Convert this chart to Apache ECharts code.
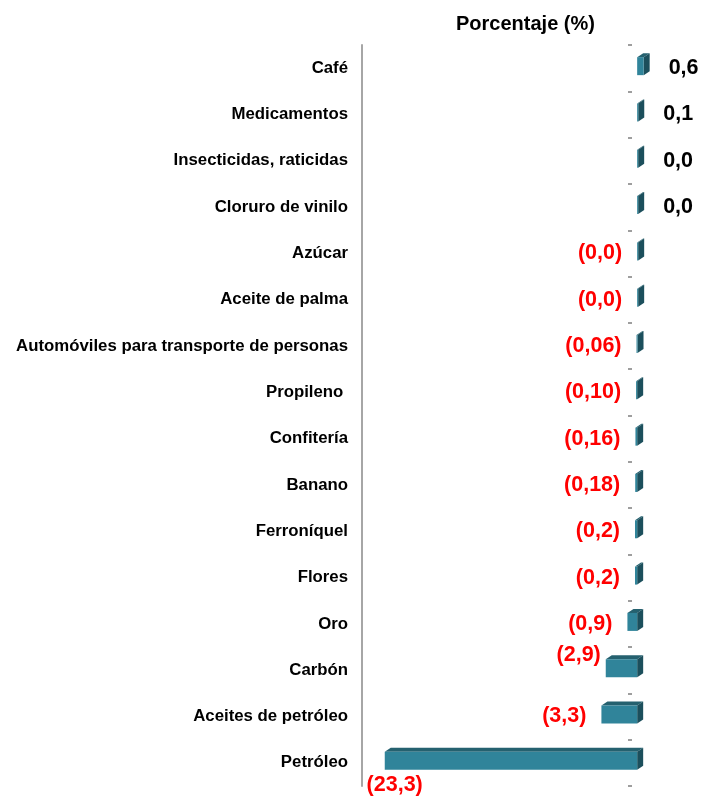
<!DOCTYPE html>
<html>
<head>
<meta charset="utf-8">
<script src="https://cdn.jsdelivr.net/npm/echarts@6/dist/echarts.min.js"></script>
<style>html,body{margin:0;padding:0;background:#fff}#c{width:703px;height:796px}</style>
</head>
<body>
<div id="c"></div>
<script>
const categories = ["Café","Medicamentos","Insecticidas, raticidas","Cloruro de vinilo","Azúcar","Aceite de palma","Automóviles para transporte de personas","Propileno ","Confitería","Banano","Ferroníquel","Flores","Oro","Carbón","Aceites de petróleo","Petróleo"];
const values = [0.6, 0.1, 0.0, 0.0, -0.0, -0.0, -0.06, -0.10, -0.16, -0.18, -0.2, -0.2, -0.9, -2.9, -3.3, -23.3];
const valueLabels = ["0,6","0,1","0,0","0,0","(0,0)","(0,0)","(0,06)","(0,10)","(0,16)","(0,18)","(0,2)","(0,2)","(0,9)","(2,9)","(3,3)","(23,3)"];
const titleText = "Porcentaje (%)";

// label nudges (style only)
const labelNudge = {13: [10, -15], 15: [53, 22]};

const FONT = '"Liberation Sans", Arial, sans-serif';
const chart = echarts.init(document.getElementById('c'), null, {renderer: 'canvas'});

const seriesData = values.map((v, i) => [v, i]);

function renderItem(params, api) {
  const v = api.value(0);
  const idx = api.value(1);
  const base = api.coord([0, idx]);
  const end = api.coord([v, idx]);
  const cy = base[1];
  const h = 18, dx = 6, dy = 4;
  let x0 = Math.min(base[0], end[0]);
  let x1 = Math.max(base[0], end[0]);
  if (x1 - x0 < 1) { x1 = x0 + 1; }
  const fy = cy - 11;
  const neg = v < 0 || Object.is(v, -0);
  const children = [
    {type: 'polygon', shape: {points: [[x0, fy], [x1, fy], [x1 + dx, fy - dy], [x0 + dx, fy - dy]]}, style: {fill: '#25616F'}},
    {type: 'polygon', shape: {points: [[x1, fy], [x1 + dx, fy - dy], [x1 + dx, fy + h - dy], [x1, fy + h]]}, style: {fill: '#1C4F5C'}},
    {type: 'rect', shape: {x: x0, y: fy, width: x1 - x0, height: h}, style: {fill: '#30849A'}}
  ];
  const nudge = labelNudge[idx] || [0, 0];
  if (neg) {
    children.push({type: 'text', style: {text: valueLabels[idx], x: x0 - 15 + nudge[0], y: cy + nudge[1], align: 'right', verticalAlign: 'middle', fill: '#FF0000', font: 'bold 21.5px ' + FONT}});
  } else {
    children.push({type: 'text', style: {text: valueLabels[idx], x: x1 + 25 + nudge[0], y: cy + nudge[1], align: 'left', verticalAlign: 'middle', fill: '#000000', font: 'bold 21.5px ' + FONT}});
  }
  return {type: 'group', children: children};
}

chart.setOption({
  animation: false,
  backgroundColor: '#ffffff',
  title: {
    text: titleText, left: 451, top: 9,
    textStyle: {fontFamily: FONT, fontWeight: 'bold', fontSize: 20, color: '#000'}
  },
  grid: {left: 362, right: 3, top: 45, bottom: 10, containLabel: false},
  xAxis: {type: 'value', min: -25.4, max: 5.8, show: false},
  yAxis: [
    {
      type: 'category', data: categories, inverse: true, position: 'left',
      axisLine: {show: true, onZero: false, lineStyle: {color: '#A6A6A6', width: 2}},
      axisTick: {show: false},
      axisLabel: {margin: 14, fontFamily: FONT, fontWeight: 'bold', fontSize: 16.8, color: '#000'},
      splitLine: {show: false}
    },
    {
      type: 'category', data: categories, inverse: true, position: 'left', offset: -270,
      axisLine: {show: false, onZero: false},
      axisTick: {show: true, length: 4, lineStyle: {color: '#7F7F7F', width: 1.5}},
      axisLabel: {show: false},
      splitLine: {show: false}
    }
  ],
  series: [{
    type: 'custom', renderItem: renderItem, data: seriesData,
    encode: {x: 0, y: 1}, xAxisIndex: 0, yAxisIndex: 0, clip: false
  }]
});
</script>
</body>
</html>
